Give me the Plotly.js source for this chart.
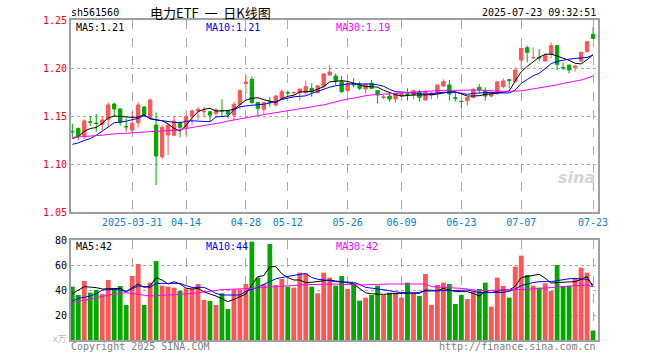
<!DOCTYPE html>
<html>
<head>
<meta charset="utf-8">
<script src="https://cdn.plot.ly/plotly-3.0.1.min.js"></script>
<style>html,body{margin:0;padding:0;background:#fff;}#chart{width:660px;height:360px;}</style>
</head>
<body>
<div id="chart"></div>
<script>
// ---------- data ----------
var dates = [
"2025-03-17","2025-03-18","2025-03-19","2025-03-20","2025-03-21","2025-03-24","2025-03-25","2025-03-26","2025-03-27","2025-03-28",
"2025-03-31","2025-04-01","2025-04-02","2025-04-03","2025-04-07","2025-04-08","2025-04-09","2025-04-10","2025-04-11","2025-04-14",
"2025-04-15","2025-04-16","2025-04-17","2025-04-18","2025-04-21","2025-04-22","2025-04-23","2025-04-24","2025-04-25","2025-04-28",
"2025-04-29","2025-04-30","2025-05-06","2025-05-07","2025-05-08","2025-05-09","2025-05-12","2025-05-13","2025-05-14","2025-05-15",
"2025-05-16","2025-05-19","2025-05-20","2025-05-21","2025-05-22","2025-05-23","2025-05-26","2025-05-27","2025-05-28","2025-05-29",
"2025-05-30","2025-06-03","2025-06-04","2025-06-05","2025-06-06","2025-06-09","2025-06-10","2025-06-11","2025-06-12","2025-06-13",
"2025-06-16","2025-06-17","2025-06-18","2025-06-19","2025-06-20","2025-06-23","2025-06-24","2025-06-25","2025-06-26","2025-06-27",
"2025-06-30","2025-07-01","2025-07-02","2025-07-03","2025-07-04","2025-07-07","2025-07-08","2025-07-09","2025-07-10","2025-07-11",
"2025-07-14","2025-07-15","2025-07-16","2025-07-17","2025-07-18","2025-07-21","2025-07-22","2025-07-23"];

var open = [
1.1340,1.1370,1.1285,1.1440,1.1426,1.1413,1.1462,1.1625,1.1573,1.1391,
1.1354,1.1430,1.1594,1.1486,1.1406,1.1076,1.1302,1.1299,1.1424,1.1382,
1.1493,1.1552,1.1545,1.1545,1.1528,1.1556,1.1552,1.1510,1.1622,1.1837,
1.1882,1.1642,1.1570,1.1650,1.1615,1.1684,1.1745,1.1741,1.1743,1.1743,
1.1788,1.1743,1.1806,1.1927,1.1917,1.1858,1.1764,1.1840,1.1830,1.1781,
1.1840,1.1764,1.1693,1.1708,1.1677,1.1708,1.1731,1.1719,1.1753,1.1667,
1.1719,1.1736,1.1813,1.1823,1.1689,1.1654,1.1660,1.1694,1.1799,1.1764,
1.1708,1.1736,1.1806,1.1877,1.1858,1.2083,1.2212,1.2106,1.2110,1.2073,
1.2142,1.2233,1.2005,1.2031,1.2007,1.2073,1.2170,1.2351];
var high = [
1.1420,1.1380,1.1465,1.1500,1.1520,1.1493,1.1639,1.1639,1.1580,1.1476,
1.1545,1.1640,1.1600,1.1684,1.1538,1.1406,1.1413,1.1500,1.1445,1.1510,
1.1570,1.1597,1.1597,1.1549,1.1580,1.1674,1.1563,1.1650,1.1778,1.1927,
1.1910,1.1645,1.1650,1.1700,1.1719,1.1778,1.1764,1.1753,1.1781,1.1868,
1.1840,1.1823,1.1944,1.2031,1.1944,1.1917,1.1858,1.1892,1.1858,1.1830,
1.1875,1.1764,1.1719,1.1743,1.1736,1.1743,1.1788,1.1771,1.1771,1.1771,
1.1753,1.1823,1.1882,1.1875,1.1753,1.1656,1.1694,1.1788,1.1833,1.1799,
1.1753,1.1865,1.1892,1.1882,1.2003,1.2212,1.2233,1.2212,1.2198,1.2153,
1.2267,1.2233,1.2059,1.2031,1.2031,1.2170,1.2274,1.2420];
var low = [
1.1280,1.1250,1.1260,1.1396,1.1337,1.1354,1.1380,1.1490,1.1400,1.1337,
1.1337,1.1380,1.1490,1.1465,1.0781,1.1052,1.1094,1.1290,1.1278,1.1300,
1.1406,1.1458,1.1493,1.1440,1.1500,1.1493,1.1476,1.1458,1.1570,1.1730,
1.1630,1.1510,1.1520,1.1597,1.1597,1.1674,1.1719,1.1720,1.1660,1.1719,
1.1700,1.1736,1.1799,1.1917,1.1823,1.1743,1.1753,1.1799,1.1770,1.1736,
1.1778,1.1632,1.1674,1.1650,1.1639,1.1700,1.1660,1.1674,1.1650,1.1660,
1.1674,1.1684,1.1799,1.1660,1.1650,1.1576,1.1608,1.1684,1.1736,1.1660,
1.1694,1.1719,1.1788,1.1788,1.1851,1.1979,1.2059,1.2101,1.2073,1.2066,
1.2101,1.1979,1.1979,1.1944,1.1962,1.2059,1.2163,1.2302];
var close = [
1.1336,1.1290,1.1448,1.1436,1.1422,1.1458,1.1615,1.1573,1.1434,1.1387,
1.1424,1.1615,1.1517,1.1667,1.1083,1.1382,1.1406,1.1448,1.1382,1.1493,
1.1552,1.1570,1.1550,1.1510,1.1563,1.1552,1.1520,1.1622,1.1764,1.1854,
1.1639,1.1580,1.1639,1.1646,1.1708,1.1753,1.1741,1.1745,1.1781,1.1806,
1.1753,1.1813,1.1938,1.1958,1.1868,1.1753,1.1840,1.1823,1.1788,1.1830,
1.1788,1.1719,1.1697,1.1677,1.1736,1.1736,1.1727,1.1764,1.1694,1.1753,
1.1736,1.1823,1.1858,1.1729,1.1686,1.1651,1.1694,1.1778,1.1771,1.1708,
1.1736,1.1854,1.1865,1.1872,1.1979,1.2205,1.2163,1.2108,1.2106,1.2128,
1.2233,1.2038,1.2001,1.1979,1.2021,1.2163,1.2274,1.2309];

var ma5 = [
1.1265,1.1285,1.1340,1.1370,1.1380,1.1424,1.1480,1.1500,1.1495,1.1488,
1.1486,1.1488,1.1515,1.1470,1.1460,1.1450,1.1417,1.1370,1.1344,1.1400,
1.1480,1.1545,1.1570,1.1580,1.1552,1.1552,1.1556,1.1570,1.1620,1.1665,
1.1685,1.1690,1.1670,1.1655,1.1640,1.1680,1.1705,1.1715,1.1750,1.1753,
1.1755,1.1780,1.1806,1.1855,1.1865,1.1868,1.1860,1.1840,1.1820,1.1806,
1.1806,1.1800,1.1768,1.1743,1.1722,1.1708,1.1715,1.1719,1.1719,1.1719,
1.1722,1.1729,1.1740,1.1750,1.1753,1.1730,1.1708,1.1708,1.1712,1.1725,
1.1736,1.1740,1.1748,1.1760,1.1865,1.1960,1.2017,1.2065,1.2112,1.2142,
1.2145,1.2125,1.2103,1.2080,1.2050,1.2042,1.2085,1.2140];
var ma10 = [
1.1205,1.1220,1.1245,1.1265,1.1300,1.1340,1.1385,1.1430,1.1436,1.1445,
1.1462,1.1475,1.1505,1.1476,1.1460,1.1450,1.1440,1.1434,1.1430,1.1445,
1.1450,1.1445,1.1445,1.1440,1.1490,1.1495,1.1500,1.1565,1.1595,1.1605,
1.1615,1.1618,1.1622,1.1635,1.1650,1.1672,1.1690,1.1700,1.1705,1.1710,
1.1736,1.1760,1.1778,1.1800,1.1815,1.1825,1.1833,1.1835,1.1835,1.1833,
1.1833,1.1825,1.1810,1.1778,1.1753,1.1750,1.1747,1.1740,1.1735,1.1726,
1.1735,1.1745,1.1747,1.1747,1.1747,1.1735,1.1726,1.1736,1.1740,1.1745,
1.1747,1.1740,1.1738,1.1740,1.1770,1.1840,1.1880,1.1920,1.1944,1.1990,
1.2045,1.2070,1.2083,1.2092,1.2100,1.2105,1.2110,1.2135];
var ma30 = [
1.1278,1.1282,1.1285,1.1288,1.1294,1.1300,1.1308,1.1315,1.1318,1.1320,
1.1322,1.1328,1.1333,1.1337,1.1340,1.1342,1.1344,1.1347,1.1355,1.1370,
1.1380,1.1392,1.1400,1.1410,1.1417,1.1432,1.1448,1.1460,1.1472,1.1485,
1.1497,1.1505,1.1515,1.1525,1.1535,1.1545,1.1552,1.1560,1.1568,1.1580,
1.1595,1.1608,1.1615,1.1632,1.1650,1.1665,1.1678,1.1684,1.1700,1.1712,
1.1719,1.1722,1.1726,1.1730,1.1736,1.1740,1.1745,1.1750,1.1755,1.1758,
1.1762,1.1764,1.1766,1.1768,1.1770,1.1771,1.1771,1.1771,1.1770,1.1765,
1.1760,1.1758,1.1757,1.1757,1.1758,1.1762,1.1772,1.1782,1.1790,1.1800,
1.1812,1.1825,1.1840,1.1852,1.1863,1.1875,1.1895,1.1915];

var volume = [
42.7,36,47.2,37.9,40,36.8,48,40.8,43.2,28,
51.2,60.8,28,45.9,63.2,43.5,42.7,41.9,39.2,41.3,
40.8,44.8,32,31.2,28,37.3,24.8,40.5,40.5,44.8,
78.7,49.9,44.8,76.8,44,48.8,42.7,41.9,53.9,53.3,
42.7,37.3,53.9,49.9,43.5,51.2,40.8,45.3,31.5,33.9,
36,43.5,36,37.9,37.3,33.9,45.9,38.1,35.2,52.8,
28,44,45.9,44.8,28.8,36,32.8,38.7,40.8,45.9,
26.7,49.9,43.2,33.9,58.7,67.5,52,43.5,41.9,45.3,
39.2,60,43.2,43.2,49.3,57.9,53.9,7.5];
var vma5 = [
37,40,42.7,42.3,41.9,40.8,40.8,40.8,41.3,38.7,
42,44.8,42.1,43.2,49.9,48,44.8,46.7,44.8,41.5,
40.8,41.3,38.5,37,35.2,33,30.7,32.5,34.7,36.8,
44,50.7,51.5,58.7,58.7,53,50,48,48,45.9,
46.2,46.7,47.2,48,47.2,46.7,45.9,44.8,41,37.8,
37,36.7,36.5,37,37.3,37.5,37.9,37.6,37.3,40,
39.8,39.5,41.3,40,38.7,38.7,38.7,37.3,35.2,38.7,
37.9,39,40,40,43,50,51,51.5,52.5,49.5,
45.5,46,46.1,46.5,46.7,48.5,50.7,42.4];
var vma10 = [
31,33.3,34.2,35.2,37,40,40.2,40.5,40,38.7,
41,43.2,42.8,42.1,45.3,45.3,45.3,45.3,45.3,43.5,
42.1,42.1,42.1,40,37.3,36,36,36,36,39,
40.5,42.1,44.5,46.7,49,50,51,51.5,52.5,53.2,
50,48.6,48.2,47.5,46.7,46.5,46.3,46.1,44.5,42.1,
41.5,41,40.5,39.5,38.5,38,37.6,37.3,38.2,39.2,
39.2,39.2,39.2,39.2,39.5,39.8,40,39,37.9,37.9,
37.9,38,38.1,39,40.8,43.5,45,46,46.7,46.7,
46.7,47.5,48.5,49,49.3,49,48.5,44.1];
var vma30 = [
29.9,30.8,31.6,32.8,33.8,34.8,36,36.6,37.2,37.9,
37.2,36.2,35.8,35.2,35.3,35.6,36,36.2,36.4,36.8,
37.3,37.8,38.5,39,39.5,40.3,40.5,40.6,40.7,40.8,
41.2,41.6,42.1,42.5,43,43.4,43.6,43.8,44,44.3,
44.5,44.8,45,45,44.8,44.5,44.2,44,44,44.2,
44.5,44.7,44.8,44.8,44.8,44.8,44.8,44.8,44.8,44.8,
42.7,42.5,42.2,42,41.7,41.3,40.8,40.2,39.5,39.6,
39.7,39.8,40,40,40,40.3,40.6,40.9,41.2,41.3,
41.8,42.2,42.6,43.2,43.5,43.7,43.9,42.5];

var tickDates = ["2025-03-31","2025-04-14","2025-04-28","2025-05-12","2025-05-26","2025-06-09","2025-06-23","2025-07-07","2025-07-23"];
var tickText  = ["2025-03-31","04-14","04-28","05-12","05-26","06-09","06-23","07-07","07-23"];
var priceTicks = [1.05,1.10,1.15,1.20,1.25];
var priceTickText = ["1.05","1.10","1.15","1.20","1.25"];
var volTicks = [20,40,60,80];
var volTickText = ["20","40","60","80"];

// ---------- style ----------
var RED = '#ff5555', GREEN = '#00a800';
var MONO = 'DejaVu Sans Mono';
var volColors = close.map(function(c, i){ return c >= open[i] ? RED : GREEN; });

function px(x){ return (x - 71) / 527; }
function py(y){ return (340 - y) / 320; }

var traces = [
  {type:'candlestick', x:dates, open:open, high:high, low:low, close:close,
   xaxis:'x', yaxis:'y', whiskerwidth:0,
   increasing:{line:{color:RED, width:1}, fillcolor:RED},
   decreasing:{line:{color:GREEN, width:1}, fillcolor:GREEN},
   hoverinfo:'skip'},
  {type:'scatter', mode:'lines', x:dates, y:ma5, xaxis:'x', yaxis:'y', line:{color:'#000000', width:1}, hoverinfo:'skip'},
  {type:'scatter', mode:'lines', x:dates, y:ma10, xaxis:'x', yaxis:'y', line:{color:'#0000ff', width:1}, hoverinfo:'skip'},
  {type:'scatter', mode:'lines', x:dates, y:ma30, xaxis:'x', yaxis:'y', line:{color:'#ff00ff', width:1}, hoverinfo:'skip'},
  {type:'bar', x:dates, y:volume, xaxis:'x2', yaxis:'y2', marker:{color:volColors, line:{width:0}}, hoverinfo:'skip'},
  {type:'scatter', mode:'lines', x:dates, y:vma5, xaxis:'x2', yaxis:'y2', line:{color:'#000000', width:1}, hoverinfo:'skip'},
  {type:'scatter', mode:'lines', x:dates, y:vma10, xaxis:'x2', yaxis:'y2', line:{color:'#0000ff', width:1}, hoverinfo:'skip'},
  {type:'scatter', mode:'lines', x:dates, y:vma30, xaxis:'x2', yaxis:'y2', line:{color:'#ff00ff', width:1}, hoverinfo:'skip'}
];

var axisCommonX = {
  type:'category', range:[-0.22, 87.83], tickmode:'array', tickvals:tickDates, ticktext:tickText,
  showgrid:true, gridcolor:'#aaaaaa', griddash:'dash', gridwidth:1,
  showline:true, mirror:true, linecolor:'#a0a0a0', linewidth:2, ticks:'',
  zeroline:false, fixedrange:true, rangeslider:{visible:false}
};
var xa1 = Object.assign({}, axisCommonX, {anchor:'y', tickfont:{family:MONO, size:10, color:'#0a7fd0'}});
var xa2 = Object.assign({}, axisCommonX, {anchor:'y2', showticklabels:false});

var ann = [];
function addText(t, x, y, anchor, color, size, fam){
  ann.push({text:t, xref:'paper', yref:'paper', x:px(x), y:py(y), xanchor:anchor, yanchor:'middle',
            showarrow:false, font:{family:fam || MONO, size:size || 10, color:color}});
}
addText('sh561560', 69, 12.5, 'left', '#000');
addText('电力ETF\u00a0\u00a0一\u00a0\u00a0日K线图', 148, 12, 'left', '#000', 13, 'Noto Sans CJK SC');
addText('2025-07-23 09:32:51', 598, 12.5, 'right', '#000');
addText('MA5:1.21', 74, 27.5, 'left', '#000');
addText('MA10:1.21', 204, 27.5, 'left', '#0000ff');
addText('MA30:1.19', 334, 27.5, 'left', '#ff00ff');
addText('MA5:42', 74, 246, 'left', '#000');
addText('MA10:44', 204, 246, 'left', '#0000ff');
addText('MA30:42', 334, 246, 'left', '#ff00ff');
addText('Copyright 2025 SINA.COM', 69, 346, 'left', '#808080');
addText('http://finance.sina.com.cn', 598, 346, 'right', '#808080');
addText('x万', 68, 338, 'right', '#bbbbbb', 9, 'Noto Sans CJK SC');
ann.push({text:'<b><i>sina</i></b>', xref:'paper', yref:'paper', x:px(597), y:py(177), xanchor:'right', yanchor:'middle',
          showarrow:false, font:{family:'DejaVu Sans', size:16, color:'#d4d4d4'}});

var layout = {
  width:660, height:360,
  margin:{l:71, r:62, t:20, b:20, pad:0},
  paper_bgcolor:'#ffffff', plot_bgcolor:'#ffffff',
  showlegend:false, boxgap:0.2, bargap:0.2,
  xaxis:xa1, xaxis2:xa2,
  yaxis:{domain:[0.4,1], range:[1.05,1.25], tickmode:'array', tickvals:priceTicks, ticktext:priceTickText,
         showgrid:true, gridcolor:'#aaaaaa', griddash:'dot', gridwidth:1,
         showline:true, mirror:true, linecolor:'#a0a0a0', linewidth:2, ticks:'', zeroline:false, fixedrange:true,
         tickfont:{family:MONO, size:10, color:'#ff0000'}},
  yaxis2:{domain:[0,0.3125], range:[0,80], tickmode:'array', tickvals:volTicks, ticktext:volTickText,
          showgrid:true, gridcolor:'#aaaaaa', griddash:'dot', gridwidth:1,
          showline:true, mirror:true, linecolor:'#a0a0a0', linewidth:2, ticks:'', zeroline:false, fixedrange:true,
          tickfont:{family:MONO, size:10, color:'#000000'}},
  annotations:ann
};

Plotly.newPlot('chart', traces, layout, {staticPlot:true, displayModeBar:false});
</script>
</body>
</html>
